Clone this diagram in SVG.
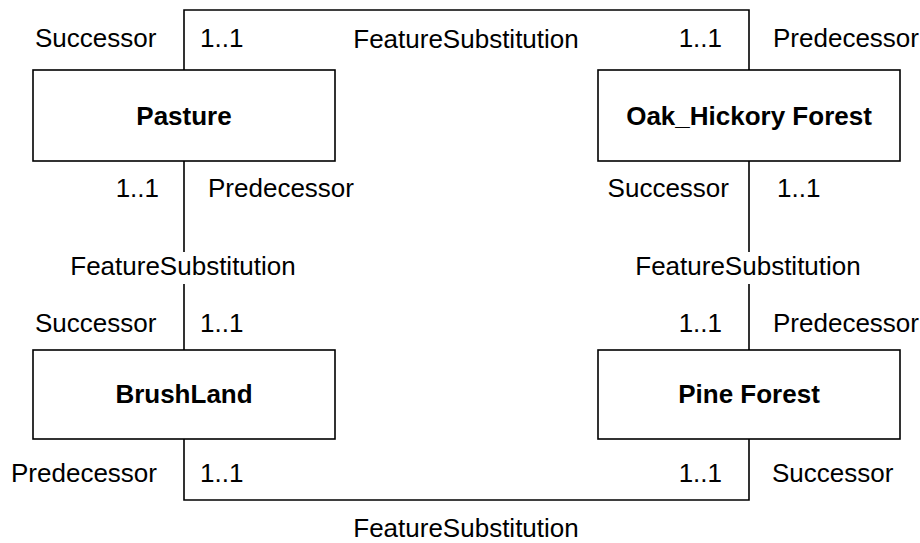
<svg xmlns="http://www.w3.org/2000/svg" width="920" height="543" viewBox="0 0 920 543">
<style>
.box{fill:#fff;stroke:#000;stroke-width:1.6}
.ln{fill:none;stroke:#000;stroke-width:1.6}
text{font-family:"Liberation Sans",Arial,sans-serif;font-size:26px;fill:#000}
.b{font-weight:bold;text-anchor:middle}
.e{text-anchor:end}
.m{text-anchor:middle}
</style>
<rect width="920" height="543" fill="#fff"/>
<g id="connectors">
<path class="ln" d="M184,70 V10 H749 V70"/>
<path class="ln" d="M184,161 V252 M184,284 V350"/>
<path class="ln" d="M749,161 V252 M749,284 V350"/>
<path class="ln" d="M184,439 V500 H749 V439"/>
<text x="35" y="47">Successor</text>
<text x="200" y="47">1..1</text>
<text class="m" x="466" y="48">FeatureSubstitution</text>
<text class="e" x="722" y="47">1..1</text>
<text x="773" y="47">Predecessor</text>
<text class="e" x="159" y="197">1..1</text>
<text x="208" y="197">Predecessor</text>
<text class="e" x="729" y="197">Successor</text>
<text x="777" y="197">1..1</text>
<text class="m" x="183" y="275">FeatureSubstitution</text>
<text class="m" x="748" y="275">FeatureSubstitution</text>
<text x="35" y="332">Successor</text>
<text x="200" y="332">1..1</text>
<text class="e" x="722" y="332">1..1</text>
<text x="773" y="332">Predecessor</text>
<text x="11" y="482">Predecessor</text>
<text x="200" y="482">1..1</text>
<text class="e" x="722" y="482">1..1</text>
<text x="772" y="482">Successor</text>
<text class="m" x="466" y="537">FeatureSubstitution</text>
</g>
<g id="pasture"><rect class="box" x="33" y="70" width="302" height="91"/><text class="b" x="184" y="125">Pasture</text></g>
<g id="oak_hickory"><rect class="box" x="598" y="70" width="302" height="91"/><text class="b" x="749" y="125">Oak_Hickory Forest</text></g>
<g id="brushland"><rect class="box" x="33" y="350" width="302" height="89"/><text class="b" x="184" y="403">BrushLand</text></g>
<g id="pine_forest"><rect class="box" x="598" y="350" width="302" height="89"/><text class="b" x="749" y="403">Pine Forest</text></g>
</svg>
